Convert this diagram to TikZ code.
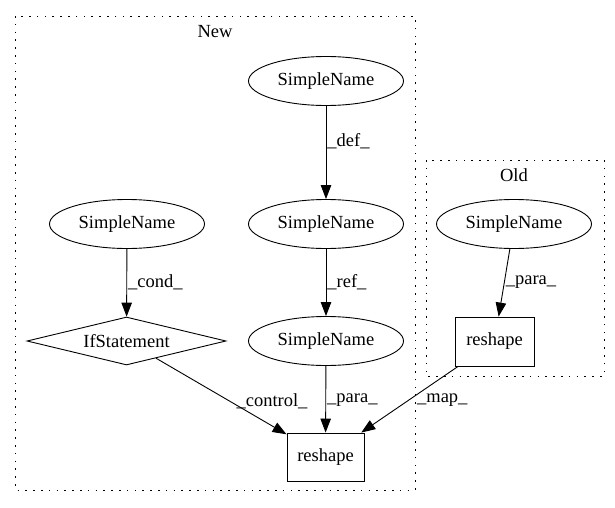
\documentclass[tikz,border=0pt]{standalone}
\usepackage{fontspec}
\setmainfont{Liberation Serif}
\usetikzlibrary{shapes.geometric,arrows.meta}
\begin{document}
\begin{tikzpicture}[x=1pt,y=-1pt,
  font=\fontsize{18.5}{22}\selectfont,
  every node/.style={inner sep=0pt},
  ell/.style={draw,ellipse,line width=0.9pt,minimum width=155pt,minimum height=49pt},
  dia/.style={draw,diamond,shape aspect=4.15,line width=0.9pt,minimum width=199pt,minimum height=48pt},
  box/.style={draw,rectangle,line width=0.9pt,minimum width=77pt,minimum height=48pt},
  clus/.style={draw,line width=0.9pt,dash pattern=on 1.6pt off 6.2pt},
  edge/.style={draw,line width=0.9pt,-{Triangle[length=14pt,width=10.5pt]}},
  lbl/.style={anchor=west,inner sep=1pt}]
\useasboundingbox (0,0) rectangle (615,508);
% clusters
\draw[clus] (15.8,16) rectangle (415,490);
\node (tnew) at (215,32) {New};
\draw[clus] (426,160) rectangle (604,376);
\node (told) at (514,175) {Old};
% nodes
\node[ell] (sn1) at (326,81) {SimpleName};
\node[ell] (sn2) at (326,224) {SimpleName};
\node[ell] (sn3) at (127,224) {SimpleName};
\node[dia] (ifs) at (126.5,341) {IfStatement};
\node[ell] (sn4) at (326,341) {SimpleName};
\node[box] (rs) at (325.5,457) {reshape};
\node[ell] (osn) at (514,224) {SimpleName};
\node[box,minimum width=79pt,minimum height=49pt] (ors) at (494.5,341.5) {reshape};
% edges
\path[edge] (sn1) -- node[lbl,pos=0.38] {\_def\_} (sn2);
\path[edge] (sn3) -- node[lbl,pos=0.49] {\_cond\_} (ifs);
\path[edge] (sn2) -- node[lbl,pos=0.49] {\_ref\_} (sn4);
\path[edge] (osn) -- node[lbl,pos=0.49] {\_para\_} (ors);
\path[edge] (ifs) -- node[lbl,pos=0.56,xshift=6pt] {\_control\_} (rs);
\path[edge] (sn4) -- node[lbl,pos=0.51] {\_para\_} (rs);
\path[edge] (ors) -- node[lbl,pos=0.51,xshift=7pt] {\_map\_} (rs);
\end{tikzpicture}
\end{document}
